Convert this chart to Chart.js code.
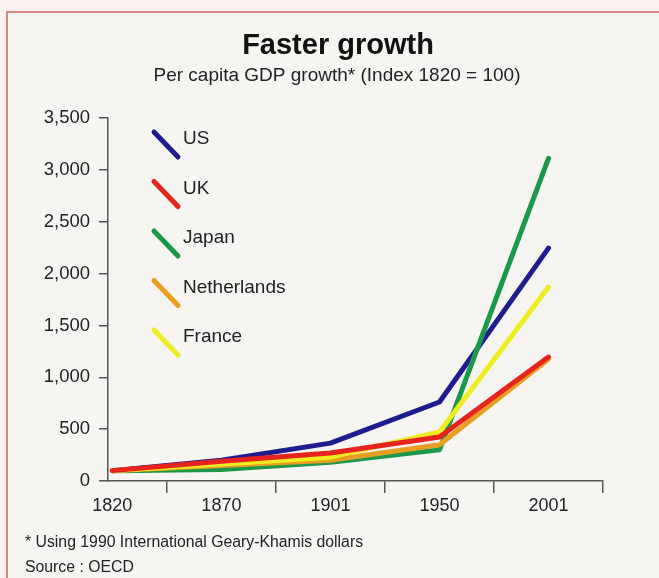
<!DOCTYPE html>
<html>
<head>
<meta charset="utf-8">
<style>
  html, body { margin: 0; padding: 0; background: #fdf1f0; }
  canvas { display: block; }
</style>
<script src="https://cdn.jsdelivr.net/npm/chart.js@4/dist/chart.umd.min.js"></script>
</head>
<body>
<canvas id="growthChart" width="659" height="578"></canvas>
<script>
// values (index 1820 = 100)
const years = ['1820', '1870', '1901', '1950', '2001'];
const usValues = [100, 200, 365, 762, 2245];
const ukValues = [100, 190, 270, 424, 1195];
const japanValues = [100, 112, 180, 300, 3110];
const netherlandsValues = [100, 150, 200, 350, 1175];
const franceValues = [100, 165, 230, 472, 1870];

const seriesNames = ['US', 'UK', 'Japan', 'Netherlands', 'France'];
const seriesColors = ['#1e1c8e', '#e6231c', '#1c984a', '#e89e20', '#eded22'];
const seriesOrder = [5, 1, 4, 3, 2];   // lower order is drawn on top
const yTicks = [0, 500, 1000, 1500, 2000, 2500, 3000, 3500];

const allValues = [usValues, ukValues, japanValues, netherlandsValues, franceValues];

const FONT = "'Liberation Sans', Arial, Helvetica, sans-serif";
const TEXT = '#222';

const datasets = seriesNames.map((name, s) => ({
    label: name,
    data: allValues[s].map((v, i) => ({ x: i, y: v })),
    borderColor: seriesColors[s],
    backgroundColor: seriesColors[s],
    borderWidth: 5,
    borderCapStyle: 'round',
    borderJoinStyle: 'round',
    pointRadius: 0,
    tension: 0,
    order: seriesOrder[s]
}));

// page background, frame and all the free text
const framePlugin = {
    id: 'frame',
    beforeDraw(chart) {
        const ctx = chart.ctx;
        ctx.save();
        ctx.fillStyle = '#fdf1f0';
        ctx.fillRect(0, 0, chart.width, chart.height);
        ctx.fillStyle = '#f6f5f1';
        ctx.fillRect(7, 12, chart.width - 7, chart.height - 12);
        ctx.strokeStyle = '#cc8a85';
        ctx.lineWidth = 2;
        ctx.beginPath();
        ctx.moveTo(7, chart.height);
        ctx.lineTo(7, 12);
        ctx.lineTo(chart.width, 12);
        ctx.stroke();
        ctx.restore();
    },
    afterDraw(chart) {
        const ctx = chart.ctx;
        ctx.save();
        ctx.fillStyle = '#111';
        ctx.textAlign = 'center';
        ctx.textBaseline = 'alphabetic';
        ctx.font = 'bold 29px ' + FONT;
        ctx.fillText('Faster growth', 338, 54);
        ctx.fillStyle = TEXT;
        ctx.font = '19px ' + FONT;
        ctx.fillText('Per capita GDP growth* (Index 1820 = 100)', 337, 81);

        ctx.textAlign = 'left';
        ctx.font = '15.8px ' + FONT;
        ctx.fillText('* Using 1990 International Geary-Khamis dollars', 25, 547);
        ctx.fillText('Source : OECD', 25, 572);

        // legend with slanted line samples
        ctx.font = '19px ' + FONT;
        ctx.textBaseline = 'middle';
        ctx.lineCap = 'round';
        ctx.lineWidth = 5;
        seriesNames.forEach((name, s) => {
            const yc = 139 + s * 49.5;
            ctx.strokeStyle = seriesColors[s];
            ctx.beginPath();
            ctx.moveTo(154, yc - 7);
            ctx.lineTo(178, yc + 18);
            ctx.stroke();
            ctx.fillStyle = TEXT;
            ctx.fillText(name, 183, yc);
        });
        ctx.restore();
    }
};

new Chart(document.getElementById('growthChart'), {
    type: 'line',
    data: { datasets: datasets },
    plugins: [framePlugin],
    options: {
        responsive: false,
        devicePixelRatio: 1,
        animation: false,
        layout: { padding: { top: 118, right: 56, bottom: 60, left: 0 } },
        plugins: {
            legend: { display: false },
            title: { display: false },
            tooltip: { enabled: false }
        },
        scales: {
            x: {
                type: 'linear',
                min: -0.04,
                max: 4.5,
                afterBuildTicks(scale) {
                    const t = [];
                    for (let v = 0; v <= 4.5; v += 0.5) t.push({ value: v });
                    scale.ticks = t;
                },
                afterFit(scale) { scale.height = 37; },
                grid: {
                    drawOnChartArea: false,
                    drawTicks: true,
                    tickLength: 12,
                    lineWidth: 1.5,
                    color: c => (c.tick && Number.isInteger(c.tick.value)) ? 'rgba(0,0,0,0)' : '#555'
                },
                border: { display: true, color: '#555', width: 1.5 },
                ticks: {
                    autoSkip: false,
                    maxRotation: 0,
                    padding: 2,
                    color: TEXT,
                    font: { family: FONT, size: 18 },
                    callback: v => Number.isInteger(v) ? years[v] : ''
                }
            },
            y: {
                min: 0,
                max: 3500,
                afterBuildTicks(scale) {
                    scale.ticks = yTicks.map(v => ({ value: v }));
                },
                afterFit(scale) { scale.width = 108; },
                grid: {
                    drawOnChartArea: false,
                    drawTicks: true,
                    tickLength: 9,
                    lineWidth: 1.5,
                    color: '#555'
                },
                border: { display: true, color: '#555', width: 1.5 },
                ticks: {
                    padding: 9,
                    color: TEXT,
                    font: { family: FONT, size: 18.5 },
                    callback: v => v.toLocaleString('en-US')
                }
            }
        }
    }
});
</script>
</body>
</html>
